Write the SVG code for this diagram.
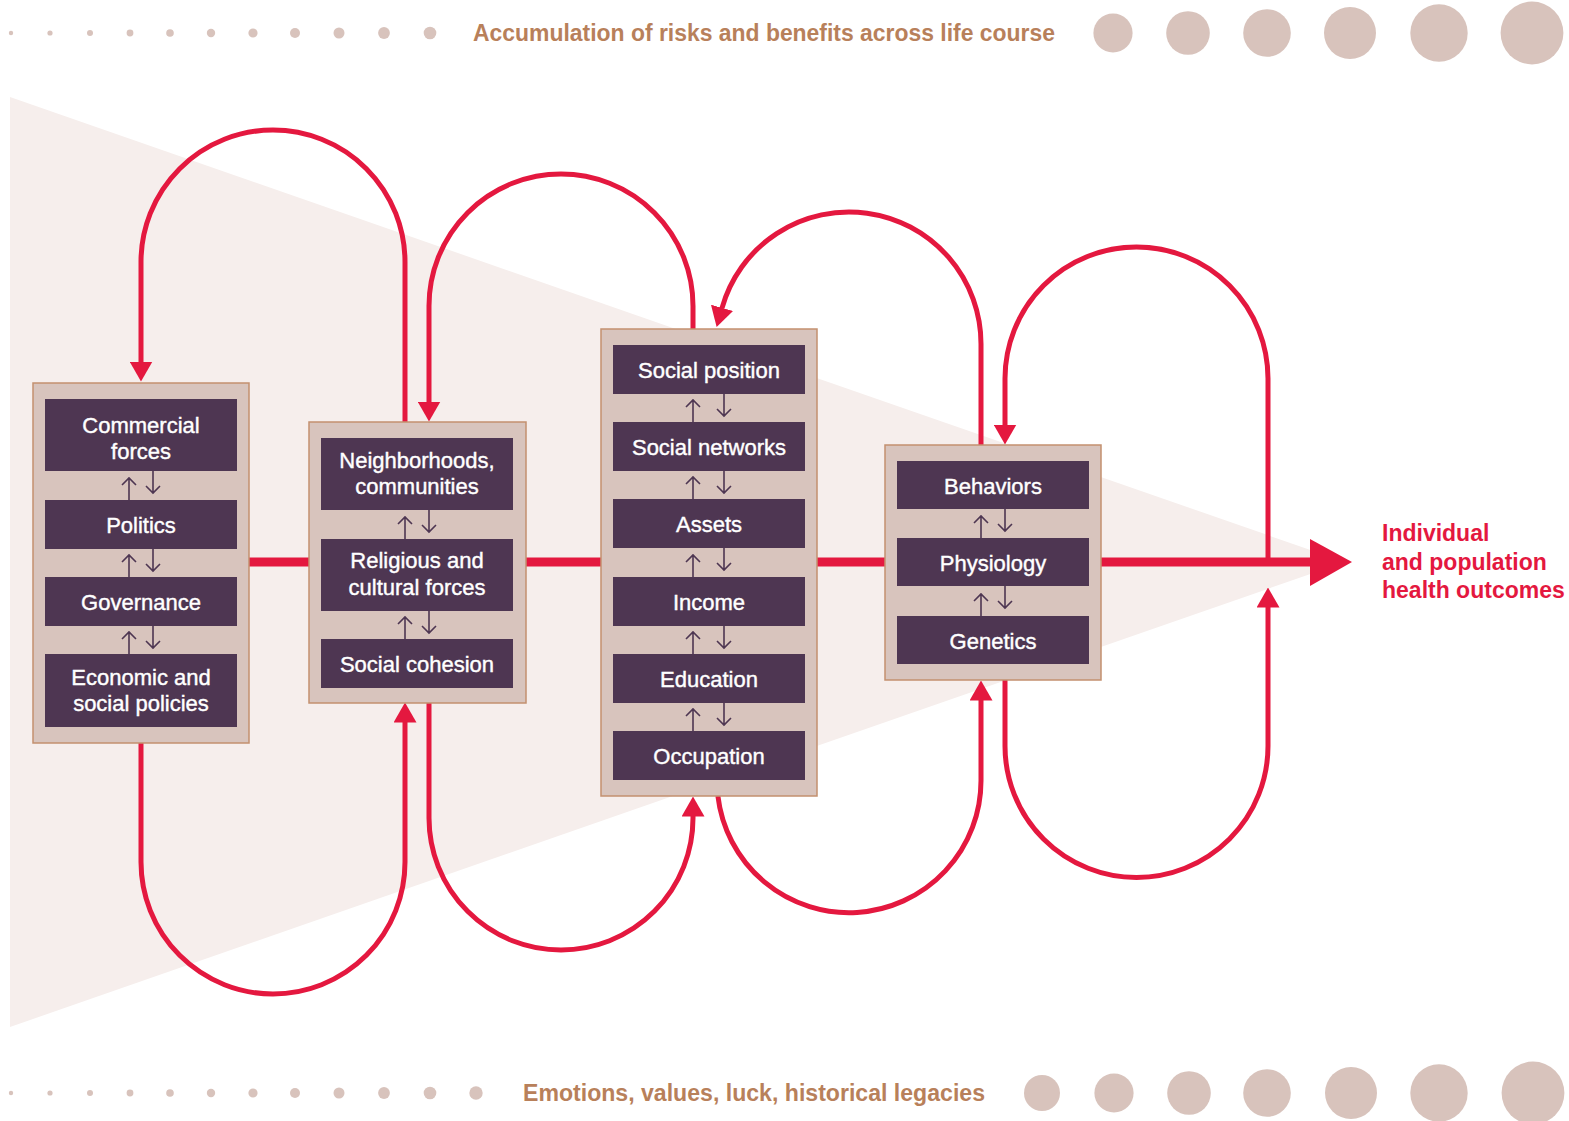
<svg xmlns="http://www.w3.org/2000/svg" width="1569" height="1121" viewBox="0 0 1569 1121">
<style>
.dot{fill:#d8c3bc}
.cap{font-family:"Liberation Sans",Arial,sans-serif;font-weight:bold;font-size:23px;fill:#b8805a}
.out{font-family:"Liberation Sans",Arial,sans-serif;font-weight:bold;font-size:23px;fill:#e4183f}
.box{fill:#d8c4bd;stroke:#c3906f;stroke-width:1.5}
.in{fill:#4e3652}
.t{font-family:"Liberation Sans",Arial,sans-serif;font-size:22px;fill:#fff;stroke:#fff;stroke-width:0.4;text-anchor:middle}
.sa{fill:none;stroke:#4e3652;stroke-width:1.6}
.loop{fill:none;stroke:#e4183f;stroke-width:5}
.main{fill:none;stroke:#e4183f;stroke-width:9}
</style>
<defs>
<marker id="ah" markerUnits="userSpaceOnUse" viewBox="0 0 20 23" refX="0.5" refY="11.5" markerWidth="20" markerHeight="23" orient="auto">
<path d="M0,0 L20,11.5 L0,23 Z" fill="#e4183f"/>
</marker>
</defs>
<rect width="1569" height="1121" fill="#fff"/>
<polygon points="10,97 10,1027 1345,562" fill="#f6eeec"/>

<g id="top-dots">
<circle class="dot" cx="11" cy="33" r="2.2"/>
<circle class="dot" cx="50" cy="33" r="2.6"/>
<circle class="dot" cx="90" cy="33" r="3"/>
<circle class="dot" cx="130" cy="33" r="3.4"/>
<circle class="dot" cx="170" cy="33" r="3.8"/>
<circle class="dot" cx="211" cy="33" r="4.2"/>
<circle class="dot" cx="253" cy="33" r="4.6"/>
<circle class="dot" cx="295" cy="33" r="5"/>
<circle class="dot" cx="339" cy="33" r="5.5"/>
<circle class="dot" cx="384" cy="33" r="5.9"/>
<circle class="dot" cx="430" cy="33" r="6.3"/>
<circle class="dot" cx="1113" cy="33" r="19.6"/>
<circle class="dot" cx="1188" cy="33" r="21.8"/>
<circle class="dot" cx="1267" cy="33" r="23.8"/>
<circle class="dot" cx="1350" cy="33" r="26"/>
<circle class="dot" cx="1439" cy="33" r="28.7"/>
<circle class="dot" cx="1532" cy="33" r="31.4"/>
</g>
<text class="cap" x="473" y="41" textLength="582" lengthAdjust="spacingAndGlyphs">Accumulation of risks and benefits across life course</text>

<g id="bottom-dots">
<circle class="dot" cx="11" cy="1093" r="2.2"/>
<circle class="dot" cx="50" cy="1093" r="2.6"/>
<circle class="dot" cx="90" cy="1093" r="3"/>
<circle class="dot" cx="130" cy="1093" r="3.4"/>
<circle class="dot" cx="170" cy="1093" r="3.8"/>
<circle class="dot" cx="211" cy="1093" r="4.2"/>
<circle class="dot" cx="253" cy="1093" r="4.6"/>
<circle class="dot" cx="295" cy="1093" r="5"/>
<circle class="dot" cx="339" cy="1093" r="5.5"/>
<circle class="dot" cx="384" cy="1093" r="5.9"/>
<circle class="dot" cx="430" cy="1093" r="6.3"/>
<circle class="dot" cx="476" cy="1093" r="6.7"/>
<circle class="dot" cx="1042" cy="1093" r="18"/>
<circle class="dot" cx="1114" cy="1093" r="19.6"/>
<circle class="dot" cx="1189" cy="1093" r="21.8"/>
<circle class="dot" cx="1267" cy="1093" r="23.8"/>
<circle class="dot" cx="1351" cy="1093" r="26"/>
<circle class="dot" cx="1439" cy="1093" r="28.7"/>
<circle class="dot" cx="1533" cy="1093" r="31.4"/>
</g>
<text class="cap" x="523" y="1101" textLength="462" lengthAdjust="spacingAndGlyphs">Emotions, values, luck, historical legacies</text>

<g id="connectors">
<path class="main" d="M249,562 H1312"/>
<polygon points="1310,539 1352,562 1310,586" fill="#e4183f"/>
<path class="loop" marker-end="url(#ah)" d="M405,422 V262 A132,132 0 0 0 141,262 V362"/>
<path class="loop" marker-end="url(#ah)" d="M693,329 V306 A132,132 0 0 0 429,306 V402"/>
<path class="loop" marker-end="url(#ah)" d="M981,445 V344 A132,132 0 0 0 721.9,308.3"/>
<path class="loop" marker-end="url(#ah)" d="M1268,562 V378.5 A131.5,131.5 0 0 0 1005,378.5 V425"/>
<path class="loop" marker-end="url(#ah)" d="M141,742 V862 A132,132 0 0 0 405,862 V722"/>
<path class="loop" marker-end="url(#ah)" d="M429,702 V818 A132,132 0 0 0 693,818 V816"/>
<path class="loop" marker-end="url(#ah)" d="M717.9,796 A132,132 0 0 0 981,780 V700"/>
<path class="loop" marker-end="url(#ah)" d="M1005,680 V746 A131.5,131.5 0 0 0 1268,746 V607"/>
</g>

<g id="group1">
<rect class="box" x="33" y="383" width="216" height="360"/>
<g id="commercial"><rect class="in" x="45" y="399" width="192" height="72"/><text class="t" x="141" y="432.5">Commercial</text><text class="t" x="141" y="458.5">forces</text></g>
<g id="politics"><rect class="in" x="45" y="500" width="192" height="49"/><text class="t" x="141" y="533">Politics</text></g>
<g id="governance"><rect class="in" x="45" y="577" width="192" height="49"/><text class="t" x="141" y="610">Governance</text></g>
<g id="economic"><rect class="in" x="45" y="654" width="192" height="73"/><text class="t" x="141" y="685">Economic and</text><text class="t" x="141" y="711">social policies</text></g>
<path class="sa" d="M129,500 V478 M122,485 L129,478 L136,485 M153,471 V493 M146,486 L153,493 L160,486"/>
<path class="sa" d="M129,577 V555 M122,562 L129,555 L136,562 M153,549 V571 M146,564 L153,571 L160,564"/>
<path class="sa" d="M129,654 V632 M122,639 L129,632 L136,639 M153,626 V648 M146,641 L153,648 L160,641"/>
</g>

<g id="group2">
<rect class="box" x="309" y="422" width="217" height="281"/>
<g id="neighborhoods"><rect class="in" x="321" y="438" width="192" height="72"/><text class="t" x="417" y="468">Neighborhoods,</text><text class="t" x="417" y="494">communities</text></g>
<g id="religious"><rect class="in" x="321" y="539" width="192" height="72"/><text class="t" x="417" y="568">Religious and</text><text class="t" x="417" y="595">cultural forces</text></g>
<g id="cohesion"><rect class="in" x="321" y="639" width="192" height="49"/><text class="t" x="417" y="672">Social cohesion</text></g>
<path class="sa" d="M405,539 V517 M398,524 L405,517 L412,524 M429,510 V532 M422,525 L429,532 L436,525"/>
<path class="sa" d="M405,639 V617 M398,624 L405,617 L412,624 M429,611 V633 M422,626 L429,633 L436,626"/>
</g>

<g id="group3">
<rect class="box" x="601" y="329" width="216" height="467"/>
<g id="social-position"><rect class="in" x="613" y="345" width="192" height="49"/><text class="t" x="709" y="378">Social position</text></g>
<g id="social-networks"><rect class="in" x="613" y="422" width="192" height="49"/><text class="t" x="709" y="455">Social networks</text></g>
<g id="assets"><rect class="in" x="613" y="499" width="192" height="49"/><text class="t" x="709" y="532">Assets</text></g>
<g id="income"><rect class="in" x="613" y="577" width="192" height="49"/><text class="t" x="709" y="610">Income</text></g>
<g id="education"><rect class="in" x="613" y="654" width="192" height="49"/><text class="t" x="709" y="687">Education</text></g>
<g id="occupation"><rect class="in" x="613" y="731" width="192" height="49"/><text class="t" x="709" y="764">Occupation</text></g>
<path class="sa" d="M693,422 V400 M686,407 L693,400 L700,407 M724,394 V416 M717,409 L724,416 L731,409"/>
<path class="sa" d="M693,499 V477 M686,484 L693,477 L700,484 M724,471 V493 M717,486 L724,493 L731,486"/>
<path class="sa" d="M693,577 V555 M686,562 L693,555 L700,562 M724,548 V570 M717,563 L724,570 L731,563"/>
<path class="sa" d="M693,654 V632 M686,639 L693,632 L700,639 M724,626 V648 M717,641 L724,648 L731,641"/>
<path class="sa" d="M693,731 V709 M686,716 L693,709 L700,716 M724,703 V725 M717,718 L724,725 L731,718"/>
</g>

<g id="group4">
<rect class="box" x="885" y="445" width="216" height="235"/>
<g id="behaviors"><rect class="in" x="897" y="461" width="192" height="48"/><text class="t" x="993" y="493.5">Behaviors</text></g>
<g id="physiology"><rect class="in" x="897" y="538" width="192" height="48"/><text class="t" x="993" y="570.5">Physiology</text></g>
<g id="genetics"><rect class="in" x="897" y="616" width="192" height="48"/><text class="t" x="993" y="648.5">Genetics</text></g>
<path class="sa" d="M981,538 V516 M974,523 L981,516 L988,523 M1005,509 V531 M998,524 L1005,531 L1012,524"/>
<path class="sa" d="M981,616 V594 M974,601 L981,594 L988,601 M1005,586 V608 M998,601 L1005,608 L1012,601"/>
</g>

<g id="outcome">
<text class="out" x="1382" y="541">Individual</text>
<text class="out" x="1382" y="570">and population</text>
<text class="out" x="1382" y="598">health outcomes</text>
</g>
</svg>
